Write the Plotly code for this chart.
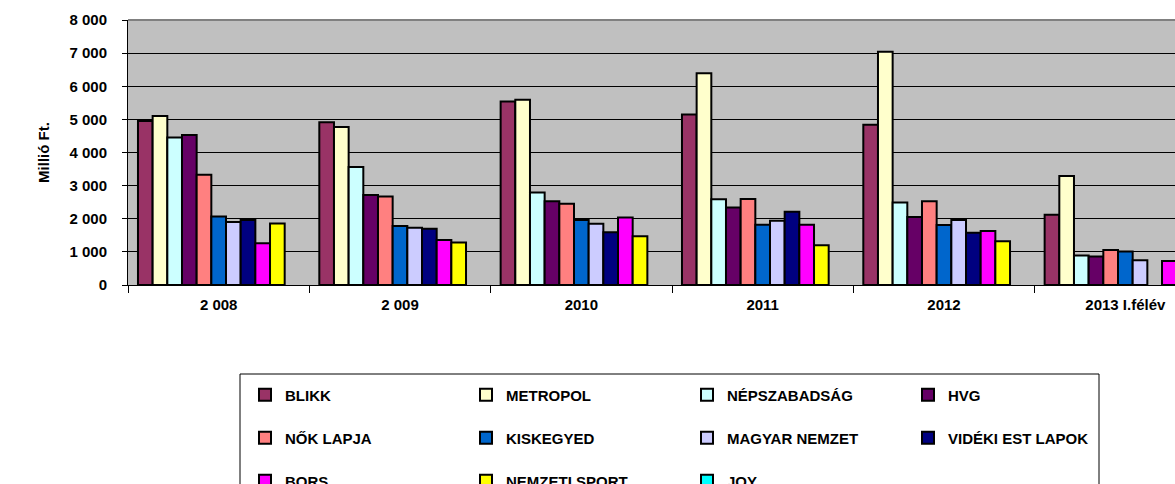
import plotly.graph_objects as go

categories = ["2 008", "2 009", "2010", "2011", "2012", "2013 I.félév"]

blikk = [4950, 4910, 5540, 5150, 4840, 2120]
metropol = [5100, 4770, 5590, 6390, 7040, 3290]
nepszabadsag = [4450, 3560, 2790, 2590, 2490, 890]
hvg = [4530, 2720, 2530, 2340, 2050, 860]
nok_lapja = [3330, 2670, 2450, 2600, 2530, 1060]
kiskegyed = [2070, 1780, 1960, 1820, 1810, 1010]
magyar_nemzet = [1900, 1730, 1850, 1940, 1960, 745]
videki_est = [1960, 1700, 1590, 2210, 1580, None]
bors = [1260, 1360, 2040, 1820, 1630, 725]
nemzeti_sport = [1860, 1280, 1470, 1200, 1320, None]
joy = [None, None, None, None, None, None]

series = [
    ("BLIKK", blikk, "#993366", "legend"),
    ("METROPOL", metropol, "#FFFFCC", "legend"),
    ("NÉPSZABADSÁG", nepszabadsag, "#CCFFFF", "legend"),
    ("HVG", hvg, "#660066", "legend"),
    ("NŐK LAPJA", nok_lapja, "#FF8080", "legend2"),
    ("KISKEGYED", kiskegyed, "#0066CC", "legend2"),
    ("MAGYAR NEMZET", magyar_nemzet, "#CCCCFF", "legend2"),
    ("VIDÉKI EST LAPOK", videki_est, "#000080", "legend2"),
    ("BORS", bors, "#FF00FF", "legend3"),
    ("NEMZETI SPORT", nemzeti_sport, "#FFFF00", "legend3"),
    ("JOY", joy, "#00FFFF", "legend3"),
]

FONT = "Liberation Sans, Arial, sans-serif"

fig = go.Figure()
for name, vals, color, leg in series:
    fig.add_trace(go.Bar(
        x=categories, y=vals, name=name, legend=leg,
        marker=dict(color=color, line=dict(color="black", width=2)),
    ))

W, H = 1240, 540
ml, mr, mt, mb = 128, 24, 20, 255
pw = W - ml - mr
ph = H - mt - mb

def px_x(x):
    return (x - ml) / pw

def px_y(y):
    return (H - mb - y) / ph

leg_common = dict(
    orientation="h", xanchor="left", yanchor="middle",
    entrywidth=176, entrywidthmode="pixels",
    bgcolor="rgba(0,0,0,0)", borderwidth=0,
    font=dict(family=FONT, size=15, color="black", weight="bold"),
    itemclick=False, itemdoubleclick=False,
)
lx = px_x(245)

fig.update_layout(
    width=W, height=H,
    margin=dict(l=ml, r=mr, t=mt, b=mb, autoexpand=False),
    paper_bgcolor="white",
    plot_bgcolor="#C0C0C0",
    barmode="group",
    bargap=0.11,
    bargroupgap=0,
    separators=", ",
    font=dict(family=FONT, size=15, color="black", weight="bold"),
    legend=dict(x=lx, y=px_y(395), **leg_common),
    legend2=dict(x=lx, y=px_y(438), **leg_common),
    legend3=dict(x=lx, y=px_y(481), **leg_common),
    xaxis=dict(
        type="category",
        showgrid=False,
        showline=True, linecolor="black", linewidth=1,
        ticks="outside", tickson="boundaries", ticklen=7, tickcolor="black",
        tickfont=dict(family=FONT, size=15, color="black", weight="bold"),
        ticklabelstandoff=6,
    ),
    yaxis=dict(
        range=[0, 8000], dtick=1000, tickformat=",d",
        showgrid=True, gridcolor="black", gridwidth=1,
        showline=True, linecolor="black", linewidth=1,
        ticks="outside", ticklen=5, tickcolor="black",
        tickfont=dict(family=FONT, size=15, color="black", weight="bold"),
        ticklabelstandoff=12,
        zeroline=False,
        title=dict(text="Millió Ft.", standoff=16,
                   font=dict(family=FONT, size=15, color="black", weight="bold")),
    ),
    shapes=[
        dict(type="line", xref="paper", yref="paper", x0=0, x1=1, y0=1, y1=1,
             line=dict(color="#808080", width=2), layer="above"),
        dict(type="rect", xref="paper", yref="paper",
             x0=px_x(240), x1=px_x(1099), y0=px_y(374), y1=px_y(560),
             line=dict(color="black", width=1), fillcolor="rgba(0,0,0,0)"),
    ],
)

post = ("document.documentElement.style.overflow='hidden';"
        "document.body.style.overflow='hidden';"
        "document.body.style.margin='0';")
fig.write_html("out.html", post_script=post, config={"displayModeBar": False})
